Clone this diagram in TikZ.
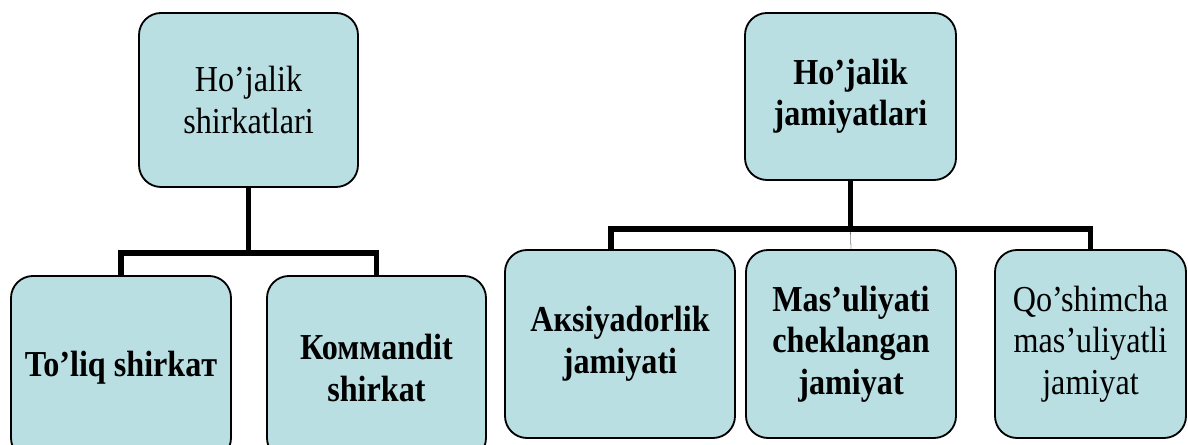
\documentclass[tikz,border=0pt]{standalone}
\usepackage{fontspec}
\setmainfont{Liberation Serif}[FakeStretch=0.88]
\usetikzlibrary{positioning}
\definecolor{boxfill}{HTML}{B9DFE3}

\tikzset{
  unitbox/.style={draw, line width=1.3pt, rounded corners=0.55cm, fill=boxfill, align=center,
    inner sep=0pt, font=\fontsize{26}{29.5}\selectfont},
  boldbox/.style={unitbox, font=\fontsize{26}{29.5}\selectfont\bfseries},
  link/.style={line width=4.2pt, line join=miter}
}

\begin{document}
\begin{tikzpicture}
\useasboundingbox (0,0) rectangle (29.7,11.125);
% left tree: shirkatlar
\node[unitbox, minimum width=5.475cm, minimum height=4.35cm] (shirk) at (6.2125,8.625) {Ho’jalik\\shirkatlari};
\node[boldbox, minimum width=5.5cm, minimum height=4.6cm] (toliq) at (3.025,1.925) {To’liq shirkaт};
\node[boldbox, minimum width=5.475cm, minimum height=4.6cm] (komm) at (9.4125,1.925) {Коммandit\\shirkat};
\coordinate (lj) at (6.2125,4.8);
\draw[link] (shirk.south) -- (lj);
\draw[link] (toliq.north) |- (lj) -| (komm.north);

% right tree: jamiyatlar
\node[boldbox, minimum width=5.275cm, minimum height=4.175cm] (jam) at (21.2625,8.7125) {Ho’jalik\\jamiyatlari};
\node[boldbox, minimum width=5.75cm, minimum height=4.7cm] (aksiy) at (15.5,2.525) {Акsiyadorlik\\jamiyati};
\node[boldbox, minimum width=5.25cm, minimum height=4.7cm] (masul) at (21.275,2.525) {Mas’uliyati\\cheklangan\\jamiyat};
\node[unitbox, minimum width=4.775cm, minimum height=4.7cm] (qosh) at (27.2625,2.525) {Qo’shimcha\\mas’uliyatli\\jamiyat};
\coordinate (ra) at (15.275,5.4);
\coordinate (rc) at (27.2625,5.4);
\draw[link] (ra |- aksiy.north) -- (ra) -- (rc) -- (qosh.north);
\draw[link] (jam.south) -- (jam.south |- ra);
\draw[very thin] (jam.south |- ra) -- (masul.north);
\end{tikzpicture}
\end{document}
